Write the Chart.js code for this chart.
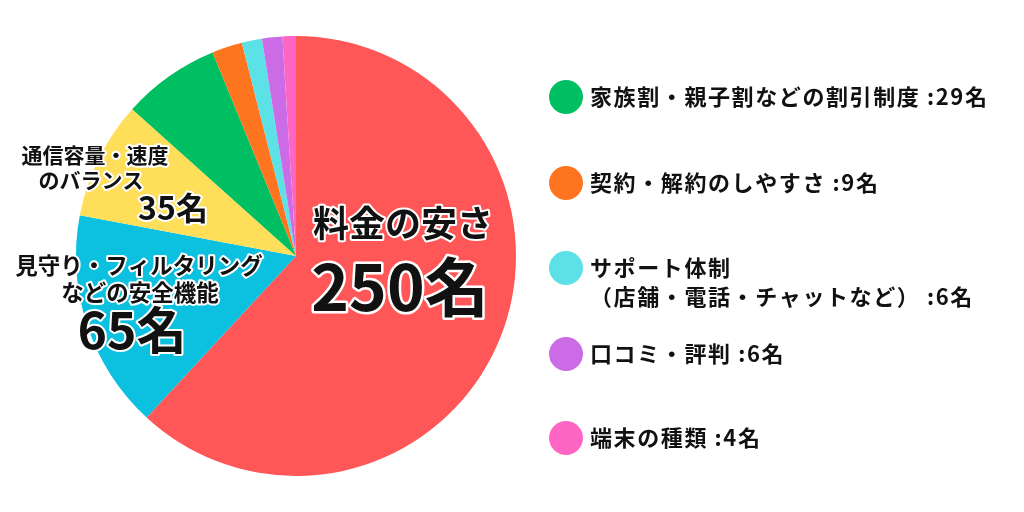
<!DOCTYPE html>
<html><head><meta charset="utf-8">
<script src="https://cdn.jsdelivr.net/npm/chart.js@4"></script>
<style>html,body{margin:0;padding:0;background:#fff}#wrap{width:1024px;height:512px}</style>
</head><body><div id="wrap"><canvas id="c" width="1024" height="512"></canvas></div>
<script>
const categories = ["料金の安さ","見守り・フィルタリングなどの安全機能","通信容量・速度のバランス","家族割・親子割などの割引制度","契約・解約のしやすさ","サポート体制（店舗・電話・チャットなど）","口コミ・評判","端末の種類"];
const counts = [250, 65, 35, 29, 9, 6, 6, 4];
const colors = ["#FF5757","#0CC0DF","#FFDE59","#00BF63","#FF751F","#5CE1E6","#CB6CE6","#FF66C4"];
const legendIdx = [3,4,5,6,7];
const legendLines = [["家族割・親子割などの割引制度 :29名"],["契約・解約のしやすさ :9名"],["サポート体制","（店舗・電話・チャットなど） :6名"],["口コミ・評判 :6名"],["端末の種類 :4名"]];
const FONT = '"Noto Sans CJK JP","Noto Sans",sans-serif';

function outlined(ctx, text, x, y, size, lw){
  ctx.font = 'bold ' + size + 'px ' + FONT;
  ctx.textAlign = 'center'; ctx.textBaseline = 'middle';
  ctx.lineJoin = 'round'; ctx.lineWidth = lw; ctx.strokeStyle = '#fff';
  ctx.strokeText(text, x, y);
  ctx.fillStyle = '#111'; ctx.fillText(text, x, y);
}

const labelPlugin = {
  id: 'labels',
  afterDatasetsDraw(chart){
    const ctx = chart.ctx;
    const arc = chart.getDatasetMeta(0).data[0];
    const cx = arc.x, cy = arc.y;
    ctx.save();
    outlined(ctx, "料金の安さ", cx+107, cy-33, 36, 4);
    outlined(ctx, counts[0]+"名", cx+104, cy+31, 64, 5);
    outlined(ctx, "見守り・フィルタリング", cx-157, cy+9, 22.5, 4);
    outlined(ctx, "などの安全機能", cx-156, cy+36, 22.5, 4);
    outlined(ctx, counts[1]+"名", cx-164, cy+74, 50, 4);
    outlined(ctx, "通信容量・速度", cx-201, cy-101, 21, 4);
    outlined(ctx, "のバランス", cx-205, cy-76, 21, 4);
    outlined(ctx, counts[2]+"名", cx-123, cy-48, 32, 4);
    ctx.restore();
  }
};

const legendPlugin = {
  id: 'customLegend',
  afterDraw(chart){
    const ctx = chart.ctx;
    const ys = [97,183,268,354,438];
    ctx.save();
    legendIdx.forEach((di, i) => {
      const y = ys[i];
      ctx.beginPath(); ctx.arc(566, y, 17, 0, Math.PI*2);
      ctx.fillStyle = colors[di]; ctx.fill();
      ctx.font = 'bold 22px ' + FONT;
      ctx.letterSpacing = '1.6px';
      ctx.textAlign = 'left'; ctx.textBaseline = 'middle';
      ctx.fillStyle = '#111';
      legendLines[i].forEach((t, k) => ctx.fillText(t, 590, y + k*29));
    });
    ctx.restore();
  }
};

new Chart(document.getElementById('c'), {
  type: 'pie',
  data: { labels: categories, datasets: [{ data: counts, backgroundColor: colors, borderWidth: 0 }] },
  options: {
    responsive: false, animation: false,
    layout: { padding: { top: 36, bottom: 36, left: 76, right: 508 } },
    plugins: { legend: { display: false }, tooltip: { enabled: false } }
  },
  plugins: [labelPlugin, legendPlugin]
});
</script></body></html>
